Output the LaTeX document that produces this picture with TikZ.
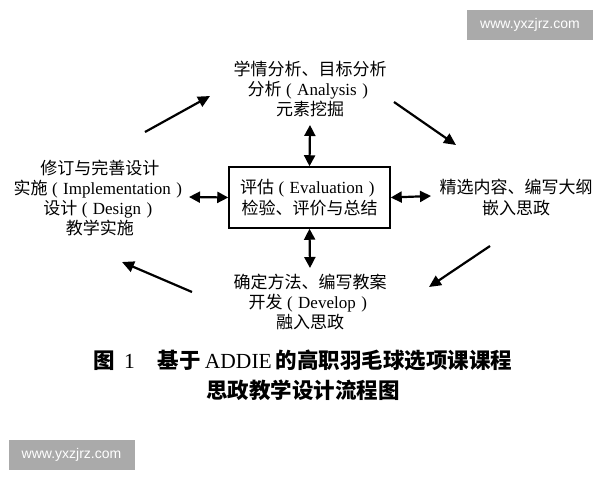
\documentclass[tikz,border=0pt]{standalone}
\usepackage{fontspec}
\setmainfont{Liberation Serif}
\newfontfamily\cjk{Noto Sans CJK SC}
\newfontfamily\wmfont{Liberation Sans}
\usetikzlibrary{arrows.meta}
\newcommand{\zh}[1]{{\cjk #1}}
\newcommand{\lpar}{\kern4.5pt(\kern5.5pt}
\newcommand{\rpar}{\kern5.5pt)\kern4.5pt}
\definecolor{wmgray}{RGB}{170,170,170}
\begin{document}
\begin{tikzpicture}[x=1pt,y=-1pt,
  txt/.style={font=\fontsize{17}{20.3}\selectfont, align=center, inner sep=0pt},
  evalbox/.style={draw, line width=1.5pt, minimum width=161pt, minimum height=61pt, inner sep=0pt, align=center, font=\fontsize{17}{20.3}\selectfont},
  arr/.style={line width=2.2pt, -{Triangle[length=12pt,width=11pt]}},
  dbl/.style={line width=2.2pt, {Triangle[length=11pt,width=11pt]}-{Triangle[length=11pt,width=11pt]}},
  wmbox/.style={fill=wmgray, text=white, minimum width=126pt, minimum height=30pt, inner sep=0pt, font=\wmfont\fontsize{14}{14}\selectfont},
  captxt/.style={font=\cjk\bfseries\fontsize{21.5}{30}\selectfont, align=center, inner sep=0pt}
]
\fill[white] (0,0) rectangle (600,480);
\useasboundingbox (0,0) rectangle (600,480);

\node[txt] (ana) at (310,89) {\zh{学情分析、目标分析}\\\zh{分析}\lpar Analysis\rpar\\\zh{元素挖掘}};
\node[txt] (imp) at (100,198) {\zh{修订与完善设计}\\\zh{实施}\lpar Implementation\rpar\\\zh{设计}\lpar Design\rpar\\\zh{教学实施}};
\node[evalbox] (eval) at (309.5,197.5) {\zh{评估}\lpar Evaluation\rpar\\\zh{检验、评价与总结}};
\node[txt] (des) at (516,197.5) {\zh{精选内容、编写大纲}\\\zh{嵌入思政}};
\node[txt] (dev) at (310,302) {\zh{确定方法、编写教案}\\\zh{开发}\lpar Develop\rpar\\\zh{融入思政}};

\coordinate (anaS) at (310,125);
\coordinate (devN) at (310,268);
\coordinate (impE) at (189,197);
\coordinate (desW) at (431,196);
\draw[dbl] (anaS) -- (eval.north);
\draw[dbl] (eval.south) -- (devN);
\draw[dbl] (impE) -- (eval.west);
\draw[dbl] (eval.east) -- (desW);

\coordinate (d1a) at (145,132); \coordinate (d1b) at (210,96);
\coordinate (d2a) at (394,102); \coordinate (d2b) at (456,145);
\coordinate (d3a) at (490,246); \coordinate (d3b) at (429,287);
\coordinate (d4a) at (192,292); \coordinate (d4b) at (122,262);
\draw[arr] (d1a) -- (d1b);
\draw[arr] (d2a) -- (d2b);
\draw[arr] (d3a) -- (d3b);
\draw[arr] (d4a) -- (d4b);

\node[captxt] (captn) at (303,375) {\zh{图}\hspace{9pt}{\rmfamily\mdseries 1}\hspace{23pt}\zh{基于}\hspace{4pt}{\rmfamily\mdseries ADDIE}\hspace{4pt}\zh{的高职羽毛球选项课课程}\\\zh{思政教学设计流程图}};

\node[wmbox] (wm1) at (530,25) {www.yxzjrz.com};
\node[wmbox] (wm2) at (71.5,455) {www.yxzjrz.com};
\end{tikzpicture}
\end{document}
